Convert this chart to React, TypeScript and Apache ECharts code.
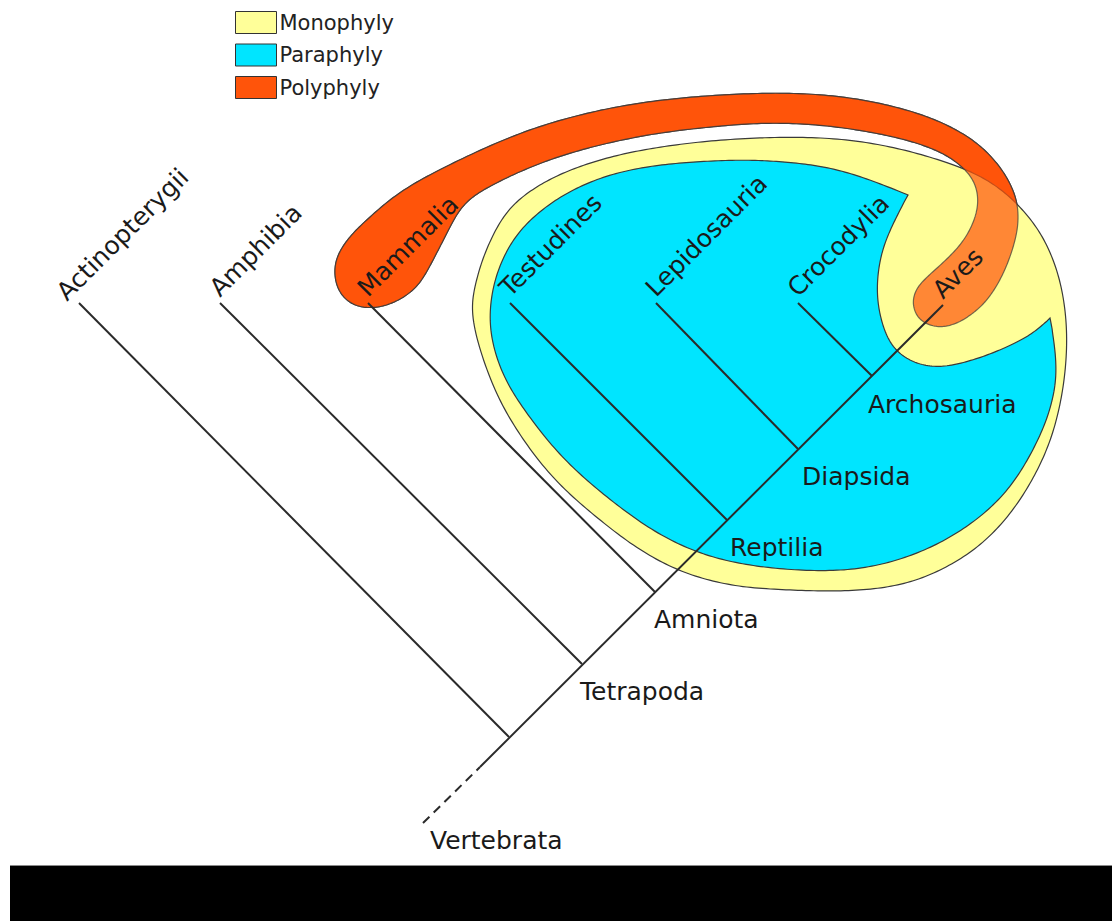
import React, { useEffect, useRef } from 'react';
import * as echarts from 'echarts';

const W = 1112;
const H = 921;

// ---- tree data ----
const cladeNames = ['Actinopterygii', 'Amphibia', 'Mammalia', 'Testudines', 'Lepidosauria', 'Crocodylia', 'Aves'];
const nodeNames = ['Vertebrata', 'Tetrapoda', 'Amniota', 'Reptilia', 'Diapsida', 'Archosauria'];
// junctions along the main stem (where each clade branches off)
const junctionX = [509, 582, 655, 727, 798, 872];
const junctionY = [737, 664, 592, 520, 449, 376];
// leaf tips (all leaves end on one line)
const leafX = [79, 220, 368, 510, 656, 798];
const leafY = 303;
const stemRoot = [423, 823];
const dashEnd = [480, 767];
const avesTip = [943, 305];

// ---- group outlines ----
const legendNames = ['Monophyly', 'Paraphyly', 'Polyphyly'];
const legendColors = ['#ffff99', '#00e5ff', '#ff540a'];

const monophylyOutline = [
  [472, 320], [476, 282], [487, 248], [505, 214], [530, 191], [565, 172], [610, 157], [660, 147],
  [720, 140], [790, 137], [850, 140], [905, 150], [960, 167], [995, 185], [1022, 209], [1044, 239],
  [1060, 280], [1067, 330], [1064, 383], [1053, 433], [1035, 475], [1010, 514], [978, 547], [937, 572],
  [895, 586], [845, 591], [790, 590], [735, 586], [685, 573], [640, 550], [595, 516], [553, 478],
  [518, 432], [492, 384],
];

const paraphylyOutline = [
  [490, 330], [493, 287], [507, 250], [528, 222], [560, 197], [600, 178], [645, 167], [693, 162],
  [743, 160], [785, 162], [825, 167], [865, 178], [908, 195], [890, 230], [880, 260], [877, 293],
  [882, 323], [893, 347], [913, 362], [940, 367], [973, 360], [1007, 347], [1033, 333], [1050, 318],
  [1057, 367], [1050, 410], [1033, 450], [1010, 487], [980, 517], [940, 543], [895, 561], [848, 570],
  [795, 570], [742, 564], [697, 552], [652, 530], [603, 494], [562, 457], [528, 415], [503, 375],
];
const paraphylyCorners = [12, 23];

const polyphylyOutline = [
  [337, 287], [335, 263], [347, 240], [370, 217], [403, 190], [453, 163], [520, 133], [587, 113],
  [653, 101], [720, 95], [785, 93], [845, 97], [900, 108], [943, 123], [977, 143], [1000, 167],
  [1013, 190], [1018, 210], [1017, 232], [1010, 257], [1000, 280], [987, 300], [972, 314], [955, 324],
  [937, 327], [920, 320], [913, 305], [916, 290], [927, 277], [947, 259], [964, 240], [975, 218],
  [978, 198], [973, 180], [960, 165], [940, 152], [910, 141], [870, 132], [820, 125], [765, 123],
  [710, 127], [653, 134], [595, 146], [540, 163], [490, 186], [463, 205], [447, 233], [433, 260],
  [417, 287], [393, 303], [370, 308], [350, 303],
];

// ---- helpers ----
function smoothClosed(pts: number[][], corners: number[], steps = 14, win = 5, passes = 2): number[][] {
  const n = pts.length;
  const isC = (i: number) => corners.indexOf(((i % n) + n) % n) >= 0;
  let out: number[][] = [];
  const cornerSamples: number[] = [];
  for (let i = 0; i < n; i++) {
    const p0 = pts[(i - 1 + n) % n];
    const p1 = pts[i];
    const p2 = pts[(i + 1) % n];
    const p3 = pts[(i + 2) % n];
    const c1 = isC(i) ? p1 : [p1[0] + (p2[0] - p0[0]) / 6, p1[1] + (p2[1] - p0[1]) / 6];
    const c2 = isC(i + 1) ? p2 : [p2[0] - (p3[0] - p1[0]) / 6, p2[1] - (p3[1] - p1[1]) / 6];
    if (isC(i)) cornerSamples.push(out.length);
    for (let s = 0; s < steps; s++) {
      const t = s / steps;
      const mt = 1 - t;
      const a = mt * mt * mt, b = 3 * mt * mt * t, c = 3 * mt * t * t, d = t * t * t;
      out.push([
        a * p1[0] + b * c1[0] + c * c2[0] + d * p2[0],
        a * p1[1] + b * c1[1] + c * c2[1] + d * p2[1],
      ]);
    }
  }
  const m = out.length;
  const near = out.map((_, j) =>
    cornerSamples.some((c) => {
      const dd = Math.abs(c - j);
      return Math.min(dd, m - dd) <= win;
    })
  );
  for (let pass = 0; pass < passes; pass++) {
    out = out.map((p, j) => {
      if (near[j]) return p;
      let sx = 0, sy = 0;
      for (let k = -win; k <= win; k++) {
        const q = out[(j + k + m) % m];
        sx += q[0];
        sy += q[1];
      }
      return [sx / (2 * win + 1), sy / (2 * win + 1)];
    });
  }
  return out;
}

function shapeSeries(name: string, outline: number[][], corners: number[], fill: string, z: number, opacity = 1) {
  return {
    type: 'custom',
    name,
    coordinateSystem: 'cartesian2d',
    z,
    silent: true,
    itemStyle: { color: fill },
    data: [outline[0]],
    renderItem: (_params: any, api: any) => {
      const pts = outline.map((p) => api.coord(p));
      return {
        type: 'polygon',
        shape: { points: smoothClosed(pts, corners) },
        style: { fill, stroke: '#3a3a3a', lineWidth: 1.2, opacity },
      };
    },
  };
}

const FONT = '"DejaVu Sans", Verdana, sans-serif';
const leafOffsets = [[-18, -7], [-6, -11], [-6, -11], [-6, -11], [-6, -11], [-6, -11], [-6, -11]];
const nodeOffsets = [[7, 17], [-2, 27], [-1, 27], [3, 27], [4, 27], [-4, 28]];

export default function App() {
  const ref = useRef<HTMLDivElement>(null);
  useEffect(() => {
    const chart = echarts.init(ref.current!, null, { renderer: 'svg' });

    const branchData = junctionX.map((jx, i) => ({ coords: [[jx, junctionY[i]], [leafX[i], leafY]] }));
    branchData.push({ coords: [dashEnd, avesTip] });

    const leafLabelData = cladeNames.map((name, i) => ({
      name,
      value: i < leafX.length ? [leafX[i], leafY] : avesTip,
    }));
    const nodeLabelData = nodeNames.map((name, i) => ({
      name,
      value: i === 0 ? stemRoot : [junctionX[i], junctionY[i]],
    }));

    const option: any = {
      animation: false,
      backgroundColor: '#ffffff',
      grid: { left: 0, right: 0, top: 0, bottom: 0, containLabel: false, outerBoundsMode: 'none' },
      xAxis: { type: 'value', min: 0, max: W, show: false },
      yAxis: { type: 'value', min: 0, max: H, inverse: true, show: false },
      legend: {
        orient: 'vertical',
        left: 235,
        top: 11,
        padding: 0,
        itemWidth: 41,
        itemHeight: 22,
        itemGap: 9.5,
        icon: 'rect',
        selectedMode: false,
        itemStyle: { borderColor: '#333', borderWidth: 1 },
        textStyle: { fontFamily: FONT, fontSize: 21, color: '#222', padding: [0, 0, 0, -2] },
        data: legendNames.map((n, i) => ({ name: n, itemStyle: { color: legendColors[i] } })),
      },
      graphic: [
        { type: 'rect', shape: { x: 10, y: 865, width: W - 10, height: 1 }, style: { fill: '#8a8a8a' } },
        { type: 'rect', shape: { x: 10, y: 866, width: W - 10, height: H - 866 }, style: { fill: '#000' } },
      ],
      series: [
        shapeSeries('Polyphyly', polyphylyOutline, [], legendColors[2], 1),
        shapeSeries('Monophyly', monophylyOutline, [], legendColors[0], 2),
        shapeSeries('Paraphyly', paraphylyOutline, paraphylyCorners, legendColors[1], 3),
        shapeSeries('Polyphyly', polyphylyOutline, [], legendColors[2], 4, 0.7),
        {
          type: 'lines',
          name: 'branches',
          coordinateSystem: 'cartesian2d',
          z: 5,
          silent: true,
          lineStyle: { color: '#2a2a2a', width: 2, opacity: 1 },
          data: branchData,
        },
        {
          type: 'lines',
          name: 'stemBase',
          coordinateSystem: 'cartesian2d',
          z: 5,
          silent: true,
          lineStyle: { color: '#2a2a2a', width: 2, opacity: 1, type: [9, 6] },
          data: [{ coords: [stemRoot, dashEnd] }],
        },
        {
          type: 'custom',
          name: 'leafLabels',
          coordinateSystem: 'cartesian2d',
          z: 6,
          silent: true,
          data: leafLabelData,
          renderItem: (params: any, api: any) => {
            const p = api.coord([api.value(0), api.value(1)]);
            const i = params.dataIndex;
            const off = leafOffsets[i];
            return {
              type: 'text',
              x: p[0] + off[0],
              y: p[1] + off[1],
              rotation: Math.PI / 4,
              style: {
                text: cladeNames[i],
                fill: '#1a1a1a',
                fontSize: 25,
                fontFamily: FONT,
                align: 'left',
                verticalAlign: 'middle',
              },
            };
          },
        },
        {
          type: 'custom',
          name: 'nodeLabels',
          coordinateSystem: 'cartesian2d',
          z: 6,
          silent: true,
          data: nodeLabelData,
          renderItem: (params: any, api: any) => {
            const p = api.coord([api.value(0), api.value(1)]);
            const i = params.dataIndex;
            const off = nodeOffsets[i];
            return {
              type: 'text',
              x: p[0] + off[0],
              y: p[1] + off[1],
              style: {
                text: nodeNames[i],
                fill: '#1a1a1a',
                fontSize: 25,
                fontFamily: FONT,
                align: 'left',
                verticalAlign: 'middle',
              },
            };
          },
        },
      ],
    };

    chart.setOption(option);
    return () => chart.dispose();
  }, []);

  return (
    <div
      ref={ref}
      style={{ position: 'fixed', left: 0, top: 0, width: W, height: H, background: '#fff' }}
    />
  );
}
